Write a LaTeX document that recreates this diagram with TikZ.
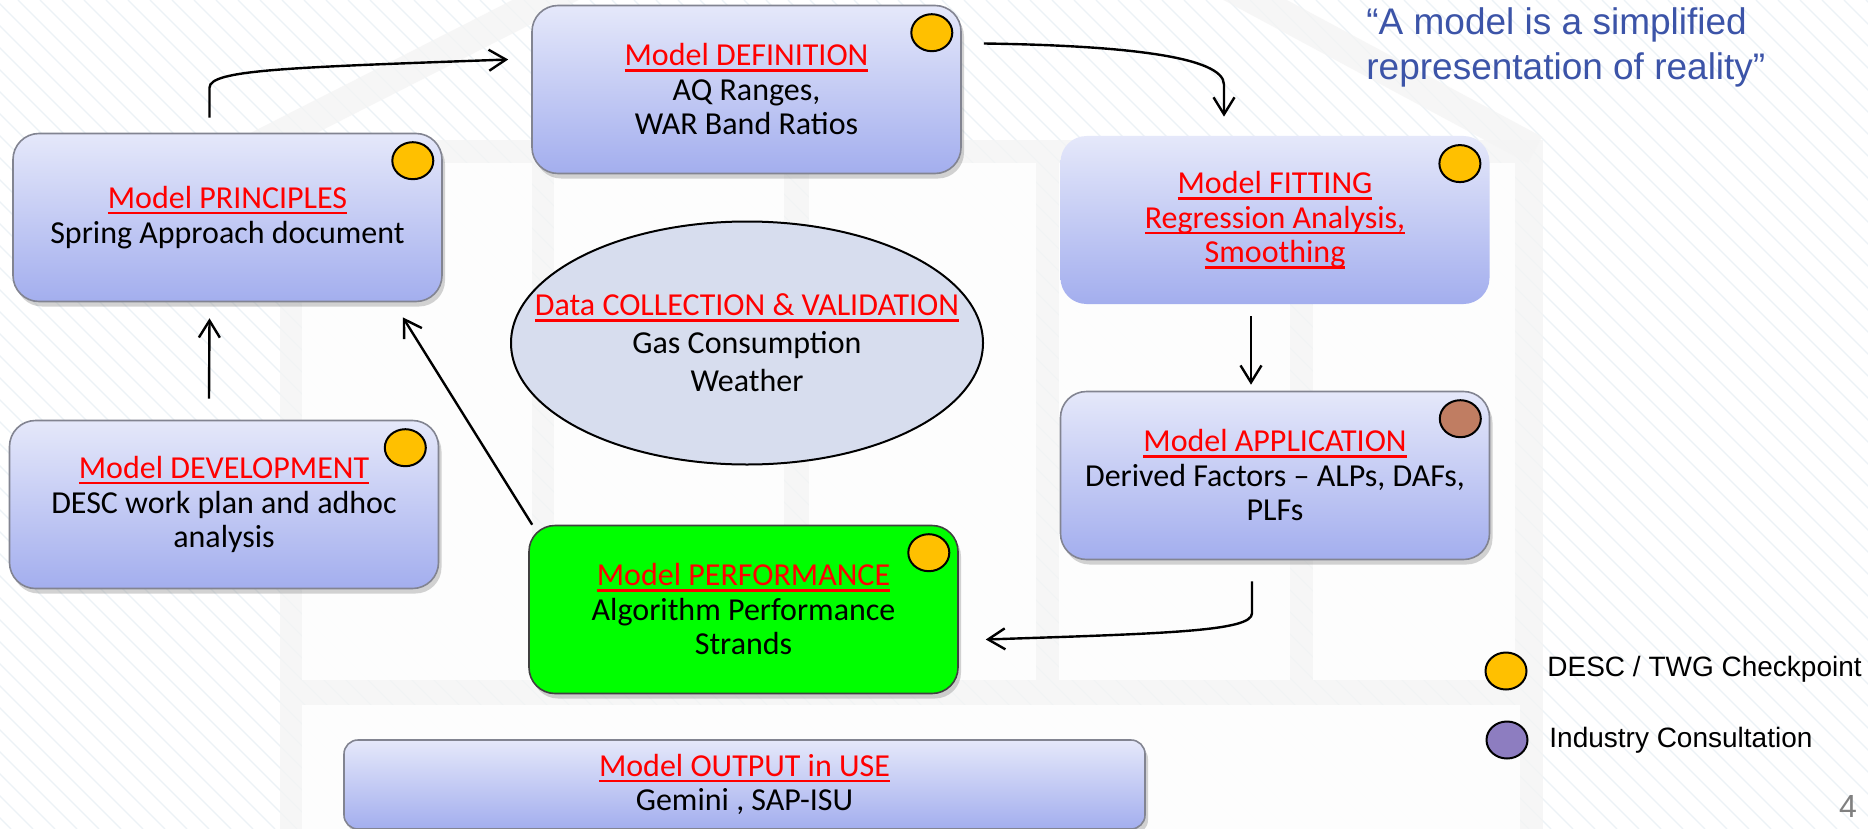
\documentclass[tikz,border=0pt]{standalone}
\usepackage{fontspec}
\setmainfont{Carlito}
\newfontfamily\arialfont{Liberation Sans}
\usetikzlibrary{arrows.meta,shapes.geometric,shadows}
\definecolor{boxtop}{RGB}{229,232,250}
\definecolor{boxbot}{RGB}{163,174,238}
\definecolor{boxline}{RGB}{130,132,145}
\definecolor{titlered}{RGB}{255,0,0}
\definecolor{perfgreen}{RGB}{0,255,0}
\definecolor{datafill}{RGB}{214,220,238}
\definecolor{dotyellow}{RGB}{255,192,0}
\definecolor{dotbrown}{RGB}{192,125,98}
\definecolor{dotpurple}{RGB}{141,125,192}
\definecolor{quoteblue}{RGB}{60,84,168}
\definecolor{stripe}{RGB}{236,242,246}
\definecolor{housegrey}{RGB}{244,244,244}
\newcommand{\redline}[1]{\leavevmode\setbox0=\hbox{#1}\rlap{\rule[-2.9pt]{\wd0}{1.2pt}}\box0}
\newcommand{\stagetitle}[1]{{\color{titlered}\redline{#1}}}
\tikzset{
  stagebase/.style={rounded corners=13pt, top color=boxtop, bottom color=boxbot,
    minimum width=214.5pt, minimum height=84pt, align=center, inner sep=2pt,
    font=\fontsize{16pt}{17.25pt}\selectfont},
  stage/.style={stagebase, draw=boxline, line width=0.8pt,
    drop shadow={opacity=0.35,shadow xshift=1.5pt,shadow yshift=-2.5pt}},
  checkdot/.style={ellipse, draw=black, line width=1pt, fill=dotyellow,
    minimum width=20.5pt, minimum height=18.5pt, inner sep=0pt},
  flow/.style={->, line width=1.2pt},
  legendtext/.style={font=\arialfont\fontsize{14pt}{16pt}\selectfont, inner sep=0pt, anchor=west},
}
\begin{document}
\begin{tikzpicture}[x=0.5pt,y=-0.5pt,>={Straight Barb[length=8.5pt,width=10.5pt]}]
\useasboundingbox (0,0) rectangle (1868,829);
\begin{scope}
\clip (0,0) rectangle (1868,829);
\fill[white] (0,0) rectangle (1868,829);
\foreach \i in {-840,-818,...,1868}
  \draw[stripe, line width=0.6pt] (\i,0) -- ++(829,829);
\fill[housegrey, opacity=0.75] (280,140) rectangle (1543,829);
\draw[housegrey, line width=15pt, opacity=0.75] (250,150) -- (910,-185) -- (1535,150);
\foreach \a/\b in {302/532,554/784,809/1036,1059/1290,1313/1515}
  \fill[white, opacity=0.85] (\a,163) rectangle (\b,680);
\fill[white, opacity=0.85] (302,705) rectangle (1520,829);
\end{scope}

\node[stage] (def) at (746.5,89.5) {\stagetitle{Model DEFINITION}\\AQ Ranges,\\WAR Band Ratios};
\node[stage] (prin) at (227.5,217.5) {\stagetitle{Model PRINCIPLES}\\Spring Approach document};
\node[stagebase] (fit) at (1275,220) {\stagetitle{Model FITTING}\\\stagetitle{Regression Analysis,}\\\stagetitle{Smoothing}};
\node[stage] (dev) at (224,504.5) {\stagetitle{Model DEVELOPMENT}\\DESC work plan and adhoc\\analysis};
\node[stage] (app) at (1275,475.5) {\stagetitle{Model APPLICATION}\\Derived Factors – ALPs, DAFs,\\PLFs};
\node[stage, draw=black!75, top color=perfgreen, bottom color=perfgreen] (perf) at (743.5,609.5) {\stagetitle{Model PERFORMANCE}\\Algorithm Performance\\Strands};
\node[stage, rounded corners=7pt, minimum width=400.5pt, minimum height=44.5pt] (out) at (744.5,784.5) {\stagetitle{Model OUTPUT in USE}\\Gemini , SAP-ISU};

\node[ellipse, draw=black, line width=1pt, fill=datafill, fill opacity=0.95, minimum width=236pt, minimum height=121.5pt, inner sep=0pt] (data) at (747,343) {};
\node[align=center, font=\fontsize{16pt}{19pt}\selectfont] (datatext) at (data.center) {\stagetitle{Data COLLECTION \& VALIDATION}\\Gas Consumption\\Weather};

\node[checkdot] (def-dot) at ([xshift=-15pt,yshift=-14pt]def.north east) {};
\node[checkdot] (prin-dot) at ([xshift=-15pt,yshift=-14pt]prin.north east) {};
\node[checkdot] (fit-dot) at ([xshift=-15pt,yshift=-14pt]fit.north east) {};
\node[checkdot] (dev-dot) at ([xshift=-17pt,yshift=-14pt]dev.north east) {};
\node[checkdot, fill=dotbrown] (app-dot) at ([xshift=-15pt,yshift=-14pt]app.north east) {};
\node[checkdot] (perf-dot) at ([xshift=-15pt,yshift=-14pt]perf.north east) {};

\draw[flow] ([xshift=-9pt,yshift=7.5pt]prin.north) -- ++(0,15pt) .. controls +(0,9pt) and +(-110pt,-4pt) .. ([xshift=-11.5pt,yshift=15pt]def.west);
\draw[flow] ([xshift=11pt,yshift=23pt]def.east) .. controls +(70pt,-1pt) and +(0pt,14pt) .. ([xshift=-25.5pt,yshift=25.5pt]fit.north) -- ([xshift=-25.5pt,yshift=9.5pt]fit.north);
\draw[flow] ([xshift=-12pt,yshift=-6pt]fit.south) -- ([xshift=-12pt,yshift=3pt]app.north);
\draw[flow] ([xshift=-11.5pt,yshift=-10.5pt]app.south) -- ++(0,-16pt) .. controls +(0,-9pt) and +(90pt,3pt) .. ([xshift=13.5pt,yshift=-15pt]perf.east);
\draw[flow] ([xshift=-7.5pt,yshift=10.5pt]dev.north) -- ([xshift=-9pt,yshift=-8pt]prin.south);
\draw[flow] ([xshift=2pt]perf.north west) -- ([xshift=-20pt,yshift=-7.5pt]prin.south east);

\node[anchor=west, align=left, inner sep=0pt, text=quoteblue, font=\arialfont\fontsize{18.5pt}{22.5pt}\selectfont] (motto) at (1366,47) {“A model is a simplified\\representation of reality”};

\node[checkdot] (key-yellow) at (1506,671) {};
\node[legendtext] (key-yellow-text) at (1547,669) {DESC / TWG Checkpoint};
\node[checkdot, fill=dotpurple] (key-purple) at (1507,740) {};
\node[legendtext] (key-purple-text) at (1549,740) {Industry Consultation};
\node[inner sep=0pt, text=gray, font=\arialfont\fontsize{16pt}{18pt}\selectfont] (pageno) at (1848,806) {4};
\end{tikzpicture}
\end{document}
